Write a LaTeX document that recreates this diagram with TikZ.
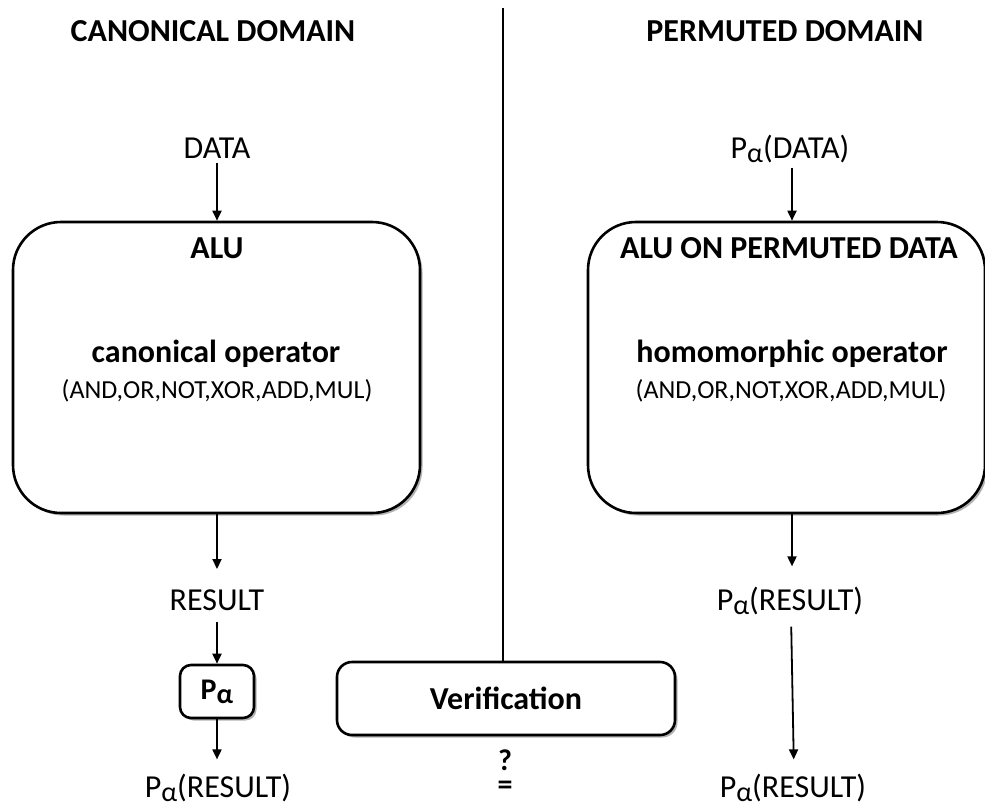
\documentclass[tikz,border=0pt]{standalone}
\usepackage{fontspec}
\setmainfont{Carlito}
\usetikzlibrary{arrows.meta,shadows}
\newcommand{\Palpha}{P\raisebox{-4pt}{\fontsize{28}{30}\selectfont α}}
\begin{document}
\begin{tikzpicture}[x=1pt,y=-1pt,
  lbl/.style={font=\fontsize{32}{36}\selectfont, inner sep=0pt, anchor=base},
  hd/.style={font=\fontsize{32}{36}\selectfont\bfseries, inner sep=0pt, anchor=base},
  ops/.style={font=\fontsize{26}{30}\selectfont, inner sep=0pt, anchor=base},
  boxshadow/.style={drop shadow={shadow xshift=2.5pt, shadow yshift=-2.5pt, opacity=0.3, fill=black}},
  bigbox/.style={draw, line width=2.6pt, rounded corners=48pt, fill=white, boxshadow, inner sep=0pt, minimum height=291pt},
  smallbox/.style={draw, line width=2.6pt, fill=white, boxshadow, inner sep=0pt},
  arr/.style={-{Triangle[length=10pt,width=9pt]}, line width=1.8pt},
  plain/.style={line width=2pt}
]
\useasboundingbox (0,0) rectangle (985,809);

% titles
\node[hd] (tL) at (213,41) {CANONICAL DOMAIN};
\node[hd] (tR) at (785,41) {PERMUTED DOMAIN};

% divider
\coordinate (vtop) at (503,8);

% left column
\node[lbl] (dataL) at (217,158) {DATA};
\node[bigbox, minimum width=407pt] (aluL) at (216.5,367.5) {};
\node[hd] (aluLt) at (217,258) {ALU};
\node[hd] (opL) at (216,362) {canonical operator};
\node[ops] (opsL) at (217,398) {(AND,OR,NOT,XOR,ADD,MUL)};
\node[lbl] (resL) at (217,610) {RESULT};
\node[smallbox, rounded corners=11pt, minimum width=74pt, minimum height=53pt,
      font=\fontsize{30}{32}\selectfont\bfseries] (pbox) at (217,691.5) {\Palpha};
\node[lbl] (presL) at (218,797) {\Palpha(RESULT)};

% right column
\node[lbl] (dataR) at (790,158) {\Palpha(DATA)};
\node[bigbox, minimum width=397pt] (aluR) at (786.5,367.5) {};
\node[hd] (aluRt) at (789,258) {ALU ON PERMUTED DATA};
\node[hd] (opR) at (792,362) {homomorphic operator};
\node[ops] (opsR) at (791,398) {(AND,OR,NOT,XOR,ADD,MUL)};
\node[lbl] (presR) at (790,610) {\Palpha(RESULT)};
\node[lbl] (presR2) at (793,797) {\Palpha(RESULT)};

% verification
\node[smallbox, rounded corners=15pt, minimum width=338pt, minimum height=73pt,
      font=\fontsize{32}{36}\selectfont\bfseries] (ver) at (506,698.5) {Verification};
\node[font=\fontsize{30}{24}\selectfont\bfseries, align=center, inner sep=0pt, anchor=north] (qeq) at (505,750) {?\\=};

% connectors
\draw[plain] (vtop) -- (vtop |- ver.north);
\draw[arr, shorten <=5pt] (dataL.south) -- (dataL.south |- aluL.north);
\draw[arr, shorten >=20pt] (aluL.south -| dataL.south) -- (dataL.south |- resL.north);
\draw[arr, shorten <=12pt] (resL.south -| pbox.north) -- (pbox.north);
\draw[arr, shorten >=14pt] (pbox.south) -- (pbox.south |- presL.north);

\draw[arr, shorten <=5pt] ([xshift=2pt]dataR.south) -- ([xshift=2pt]dataR.south |- aluR.north);
\draw[arr, shorten >=20pt] ([xshift=2pt]dataR.south |- aluR.south) -- ([xshift=2pt]dataR.south |- presR.north);
\draw[arr, shorten <=12pt, shorten >=14pt] ([xshift=1pt]presR.south) -- ([xshift=1pt]presR2.north);
\end{tikzpicture}
\end{document}
